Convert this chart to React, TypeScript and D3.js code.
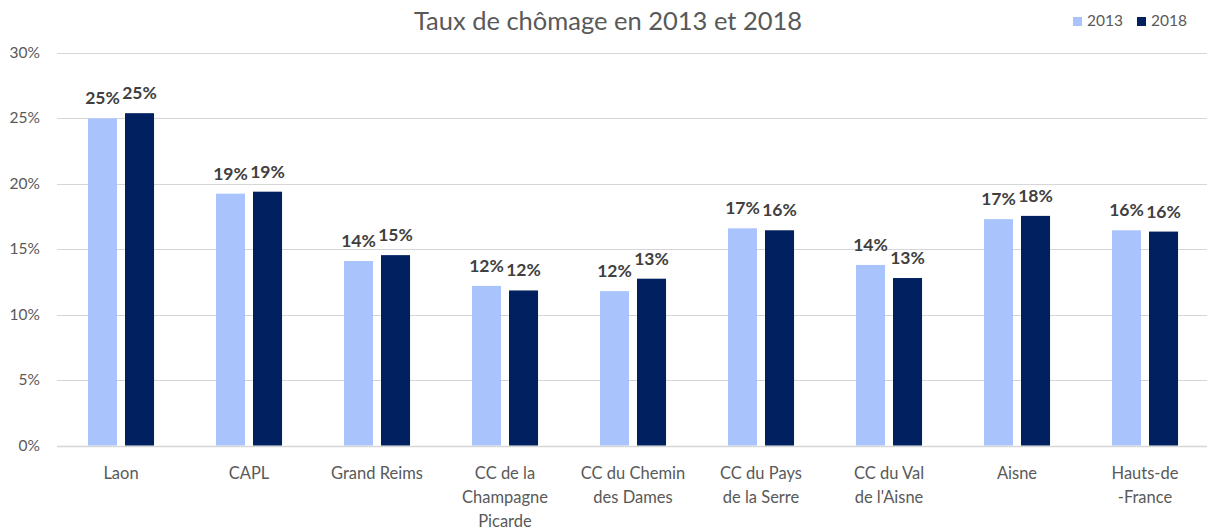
import React from 'react'
import * as d3 from 'd3'

const categories = [
  'Laon',
  'CAPL',
  'Grand Reims',
  'CC de la\nChampagne\nPicarde',
  'CC du Chemin\ndes Dames',
  'CC du Pays\nde la Serre',
  'CC du Val\nde l\'Aisne',
  'Aisne',
  'Hauts-de\n-France',
]
const series = ['2013', '2018']
const values2013 = [25.0, 19.25, 14.1, 12.2, 11.8, 16.6, 13.8, 17.3, 16.45]
const values2018 = [25.4, 19.4, 14.55, 11.85, 12.75, 16.45, 12.8, 17.55, 16.35]
const yTicks = [0, 5, 10, 15, 20, 25, 30]
const colors = ['#a9c4fc', '#002060']

const W = 1207
const H = 530
const FONT = 'Lato, "Noto Sans", sans-serif'

const App = () => {
  const x0 = d3.scaleBand().domain(categories).range([57, 1209]).paddingInner(0.484).paddingOuter(0.242)
  const x1 = d3.scaleBand().domain(series).range([0, x0.bandwidth()]).paddingInner(0.216)
  const y = d3.scaleLinear().domain([0, 30]).range([445.5, 53])
  const data = [values2013, values2018]

  return (
    <svg width={W} height={H} style={{ position: 'absolute', left: 0, top: 0, display: 'block', background: '#fff' }} fontFamily={FONT}>
      <text x={608} y={30} textAnchor="middle" fontSize={25.5} fill="#595959">Taux de chômage en 2013 et 2018</text>

      {/* legend */}
      {series.map((s, i) => (
        <g key={s} transform={`translate(${1073 + i * 64},0)`}>
          <rect x={0} y={17} width={9} height={9} fill={colors[i]} />
          <text x={14} y={26} fontSize={15.5} fill="#595959">{s}</text>
        </g>
      ))}

      {/* grid */}
      {yTicks.map(t => (
        <g key={t}>
          <line x1={57} x2={W} y1={Math.round(y(t)) + 0.5} y2={Math.round(y(t)) + 0.5} stroke="#d6d6d6" strokeWidth={t === 0 ? 1.5 : 1} />
          <text x={40} y={y(t) + 5} textAnchor="end" fontSize={15.5} fill="#595959">{t}%</text>
        </g>
      ))}

      {/* bars */}
      {categories.map((c, ci) => (
        <g key={c} transform={`translate(${x0(c)},0)`}>
          {series.map((s, si) => {
            const v = data[si][ci]
            const bx = x1(s) as number
            return (
              <g key={s}>
                <rect x={bx} y={y(v)} width={x1.bandwidth()} height={y(0) - y(v)} fill={colors[si]} />
                <text x={bx + x1.bandwidth() / 2} y={y(v) - 14} textAnchor="middle" fontSize={17.5} fontWeight="bold" fill="#404040">
                  {Math.round(v)}%
                </text>
              </g>
            )
          })}
        </g>
      ))}

      {/* category labels */}
      {categories.map(c => (
        <text key={c} x={(x0(c) as number) + x0.bandwidth() / 2} textAnchor="middle" fontSize={16.5} fill="#595959">
          {c.split('\n').map((line, li) => (
            <tspan key={li} x={(x0(c) as number) + x0.bandwidth() / 2} y={479 + li * 24}>{line}</tspan>
          ))}
        </text>
      ))}
    </svg>
  )
}

export default App
